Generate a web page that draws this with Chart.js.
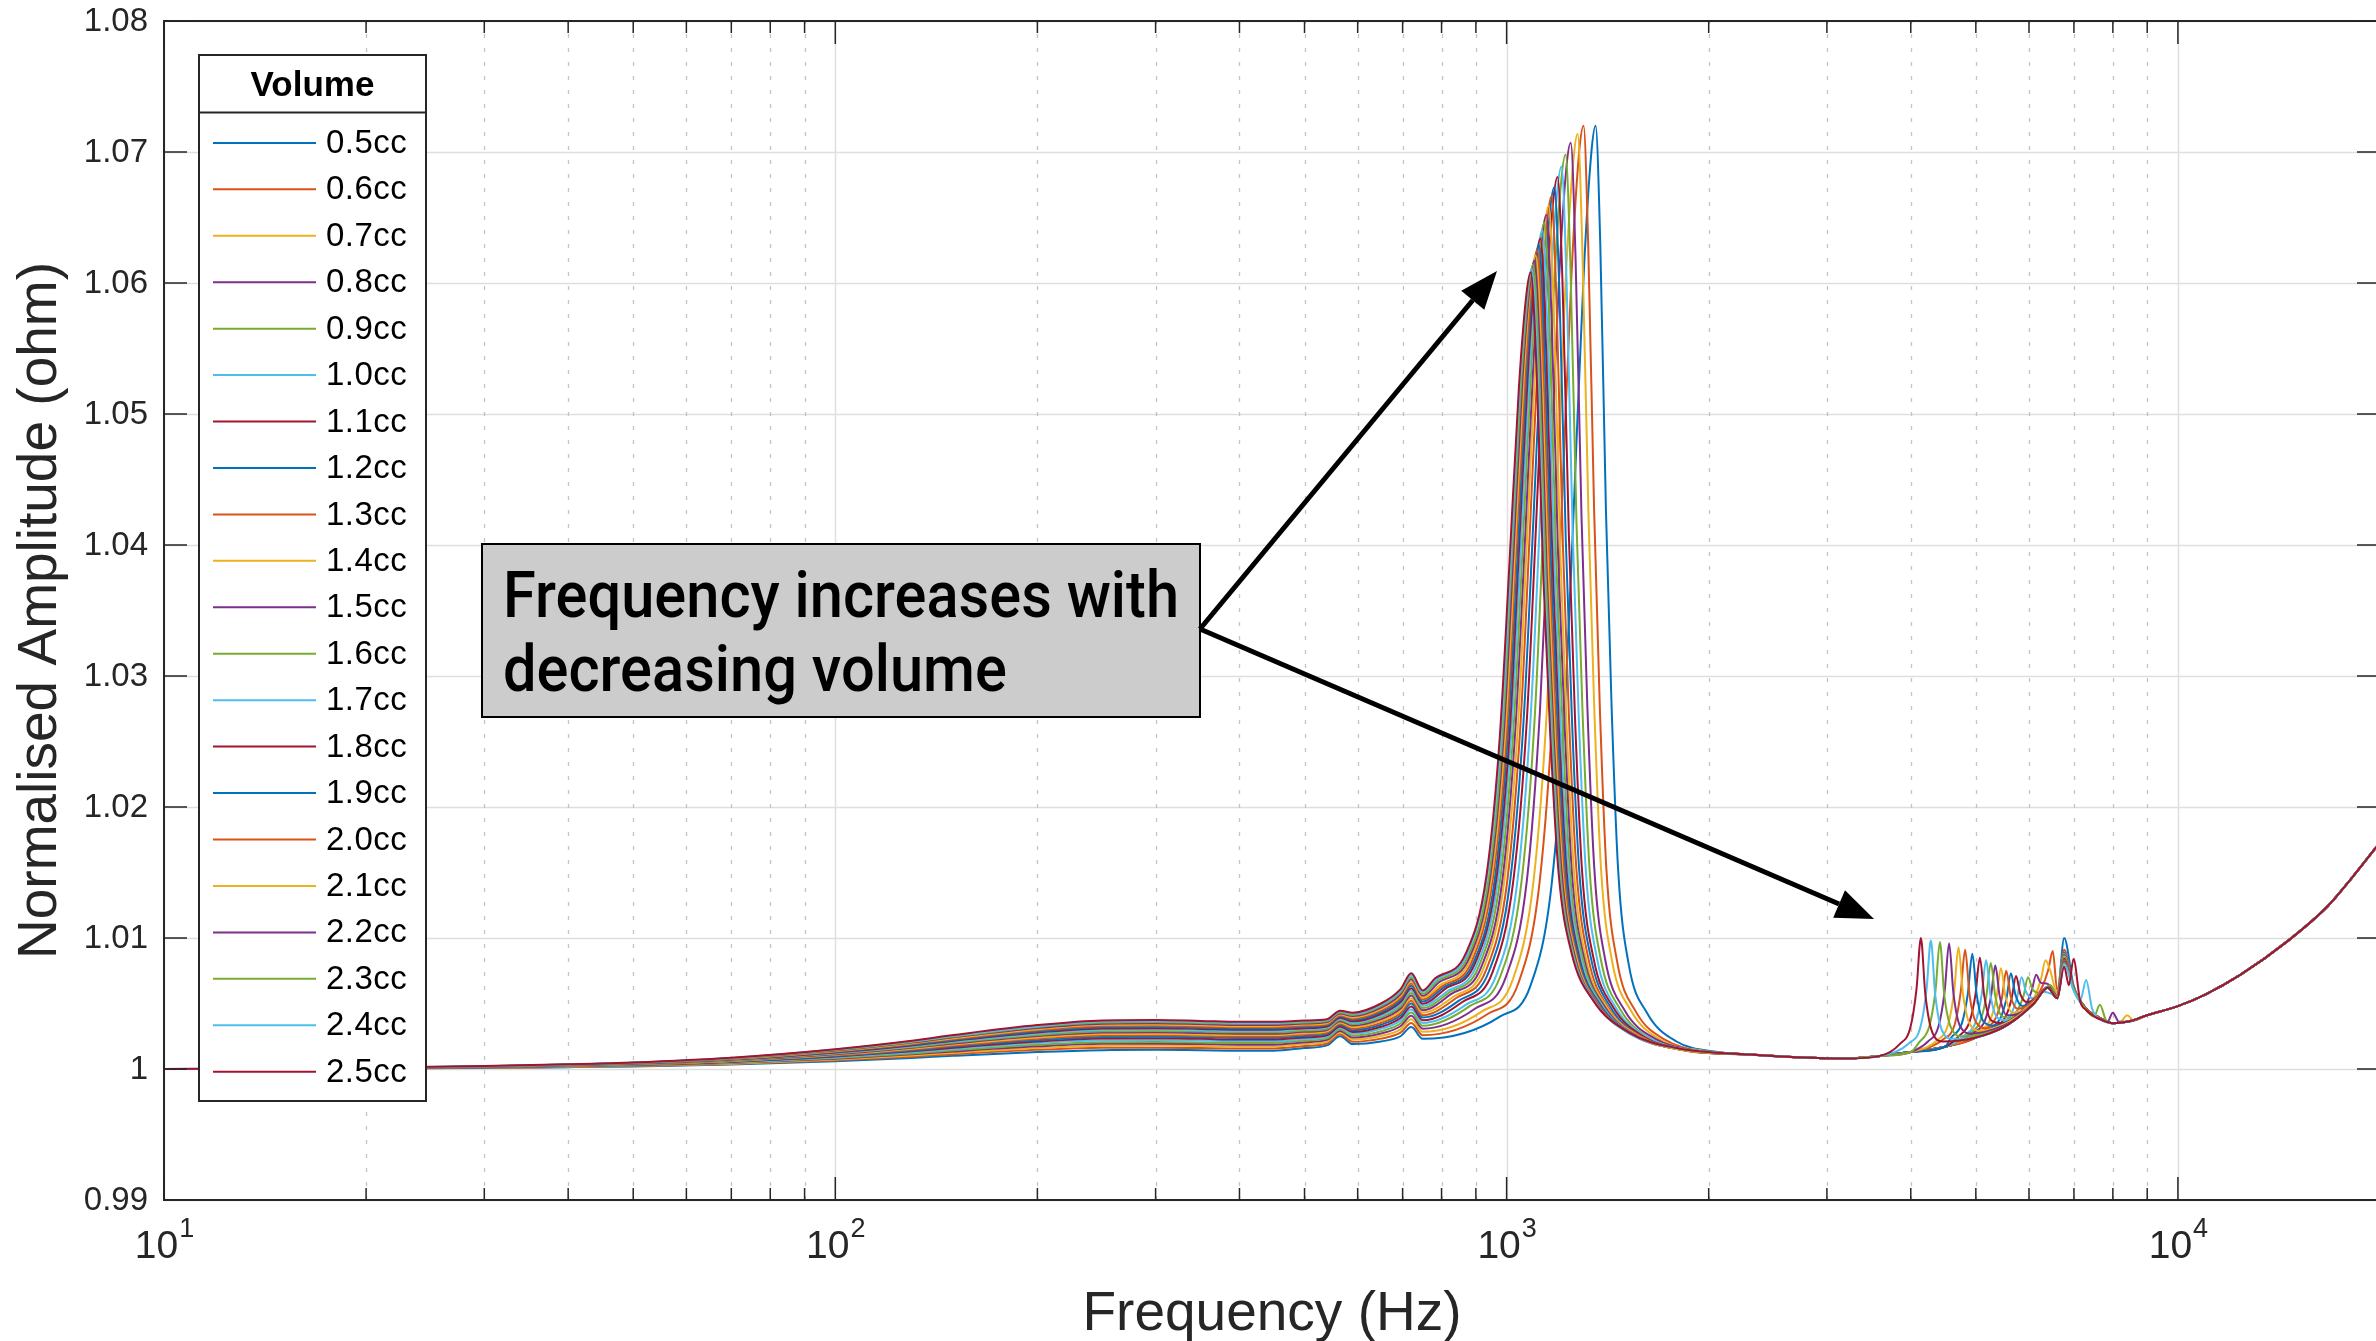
<!DOCTYPE html>
<html>
<head>
<meta charset="utf-8">
<script src="https://cdn.jsdelivr.net/npm/chart.js@4.4.1/dist/chart.umd.min.js"></script>
<style>
  html, body { margin: 0; padding: 0; background: #fff; overflow: hidden; }
  #wrap { position: absolute; left: 0; top: 0; width: 2400px; height: 1341px; }
</style>
</head>
<body>
<div id="wrap"><canvas id="grafica" width="2400" height="1341"></canvas></div>
<script>
const volumes = ["0.5cc", "0.6cc", "0.7cc", "0.8cc", "0.9cc", "1.0cc", "1.1cc", "1.2cc", "1.3cc", "1.4cc",
  "1.5cc", "1.6cc", "1.7cc", "1.8cc", "1.9cc", "2.0cc", "2.1cc", "2.2cc", "2.3cc", "2.4cc", "2.5cc"]
const colores = ["#0072BD", "#D95319", "#EDB120", "#7E2F8E", "#77AC30", "#4DBEEE", "#A2142F"]

const yTicks = [0.99, 1.00, 1.01, 1.02, 1.03, 1.04, 1.05, 1.06, 1.07, 1.08]
const yLabels = ["0.99", "1", "1.01", "1.02", "1.03", "1.04", "1.05", "1.06", "1.07", "1.08"]
const xDecades = [10, 100, 1000, 10000]
const xExps = ["1", "2", "3", "4"]

// below the main resonance (Hz), same grid for every volume
const lowFreq = [10, 15, 20, 30, 40, 50, 70, 100, 130, 150, 200, 250, 300, 350, 400, 450, 500, 540, 565, 590, 650, 695, 721, 750]
const lowAmp = [
  [1, 1.00001, 1.00004, 1.00008, 1.00014, 1.0002, 1.00034, 1.00059, 1.00084, 1.00101, 1.0013, 1.00144, 1.00146, 1.00143, 1.0014, 1.0014, 1.0016, 1.0018, 1.0025, 1.0019, 1.0021, 1.0025, 1.0032, 1.0023],
  [1, 1.00002, 1.00004, 1.00009, 1.00016, 1.00022, 1.00038, 1.00066, 1.00094, 1.00113, 1.00146, 1.00162, 1.00163, 1.0016, 1.00157, 1.00157, 1.00176, 1.00195, 1.00265, 1.00208, 1.00232, 1.00277, 1.00351, 1.00258],
  [1, 1.00002, 1.00004, 1.0001, 1.00017, 1.00024, 1.00041, 1.00072, 1.00103, 1.00124, 1.0016, 1.00177, 1.00179, 1.00175, 1.00172, 1.00172, 1.0019, 1.00209, 1.00278, 1.00225, 1.00252, 1.00302, 1.00379, 1.00284],
  [1, 1.00002, 1.00005, 1.00011, 1.00019, 1.00026, 1.00045, 1.00078, 1.00112, 1.00134, 1.00173, 1.00192, 1.00193, 1.0019, 1.00186, 1.00186, 1.00204, 1.00222, 1.00291, 1.0024, 1.00271, 1.00326, 1.00406, 1.00308],
  [1, 1.00002, 1.00005, 1.00012, 1.0002, 1.00028, 1.00048, 1.00084, 1.00119, 1.00143, 1.00185, 1.00205, 1.00207, 1.00203, 1.00199, 1.00199, 1.00217, 1.00234, 1.00303, 1.00255, 1.00288, 1.00347, 1.00431, 1.0033],
  [1, 1.00002, 1.00005, 1.00013, 1.00021, 1.0003, 1.00051, 1.0009, 1.00128, 1.00153, 1.00198, 1.00219, 1.00222, 1.00217, 1.00213, 1.00213, 1.00229, 1.00246, 1.00314, 1.00269, 1.00306, 1.00369, 1.00455, 1.00352],
  [1, 1.00002, 1.00006, 1.00014, 1.00023, 1.00032, 1.00054, 1.00095, 1.00135, 1.00162, 1.00209, 1.00232, 1.00234, 1.0023, 1.00225, 1.00225, 1.00241, 1.00257, 1.00325, 1.00282, 1.00322, 1.00389, 1.00478, 1.00372],
  [1, 1.00002, 1.00006, 1.00014, 1.00024, 1.00033, 1.00057, 1.001, 1.00142, 1.00171, 1.0022, 1.00244, 1.00247, 1.00242, 1.00237, 1.00237, 1.00252, 1.00268, 1.00336, 1.00296, 1.00338, 1.00408, 1.005, 1.00393],
  [1, 1.00002, 1.00006, 1.00015, 1.00025, 1.00035, 1.0006, 1.00104, 1.00149, 1.00179, 1.00231, 1.00255, 1.00258, 1.00253, 1.00248, 1.00248, 1.00263, 1.00278, 1.00346, 1.00308, 1.00352, 1.00426, 1.00521, 1.00411],
  [1, 1.00003, 1.00006, 1.00016, 1.00026, 1.00036, 1.00062, 1.00109, 1.00155, 1.00187, 1.00241, 1.00267, 1.00269, 1.00264, 1.00259, 1.00259, 1.00273, 1.00288, 1.00355, 1.0032, 1.00367, 1.00444, 1.00541, 1.0043],
  [1, 1.00003, 1.00007, 1.00016, 1.00027, 1.00038, 1.00065, 1.00113, 1.00162, 1.00194, 1.00251, 1.00278, 1.00281, 1.00275, 1.0027, 1.0027, 1.00284, 1.00298, 1.00365, 1.00332, 1.00381, 1.00462, 1.00562, 1.00448],
  [1, 1.00003, 1.00007, 1.00017, 1.00028, 1.00039, 1.00067, 1.00118, 1.00168, 1.00202, 1.0026, 1.00288, 1.00291, 1.00286, 1.0028, 1.0028, 1.00293, 1.00307, 1.00374, 1.00342, 1.00394, 1.00479, 1.0058, 1.00465],
  [1, 1.00003, 1.00007, 1.00017, 1.00029, 1.00041, 1.0007, 1.00122, 1.00174, 1.00209, 1.0027, 1.00299, 1.00302, 1.00296, 1.0029, 1.0029, 1.00303, 1.00316, 1.00383, 1.00353, 1.00407, 1.00495, 1.00599, 1.00482],
  [1, 1.00003, 1.00008, 1.00018, 1.0003, 1.00042, 1.00072, 1.00126, 1.0018, 1.00216, 1.00279, 1.00309, 1.00312, 1.00306, 1.003, 1.003, 1.00312, 1.00325, 1.00391, 1.00364, 1.0042, 1.00511, 1.00617, 1.00498],
  [1, 1.00003, 1.00008, 1.00019, 1.00031, 1.00043, 1.00074, 1.0013, 1.00185, 1.00222, 1.00287, 1.00318, 1.00321, 1.00315, 1.00309, 1.00309, 1.00322, 1.00334, 1.004, 1.00375, 1.00433, 1.00527, 1.00636, 1.00515],
  [1, 1.00003, 1.00008, 1.00019, 1.00032, 1.00045, 1.00076, 1.00134, 1.00191, 1.00229, 1.00296, 1.00328, 1.00331, 1.00324, 1.00318, 1.00318, 1.0033, 1.00342, 1.00408, 1.00384, 1.00445, 1.00542, 1.00652, 1.0053],
  [1, 1.00003, 1.00008, 1.0002, 1.00033, 1.00046, 1.00078, 1.00137, 1.00196, 1.00235, 1.00304, 1.00337, 1.0034, 1.00334, 1.00327, 1.00327, 1.00339, 1.0035, 1.00416, 1.00394, 1.00457, 1.00556, 1.00669, 1.00545],
  [1, 1.00003, 1.00008, 1.0002, 1.00034, 1.00047, 1.00081, 1.00141, 1.00202, 1.00242, 1.00313, 1.00346, 1.00349, 1.00343, 1.00336, 1.00336, 1.00347, 1.00358, 1.00424, 1.00404, 1.00468, 1.0057, 1.00685, 1.00559],
  [1, 1.00003, 1.00009, 1.00021, 1.00035, 1.00048, 1.00083, 1.00145, 1.00207, 1.00248, 1.00321, 1.00355, 1.00359, 1.00352, 1.00345, 1.00345, 1.00355, 1.00366, 1.00431, 1.00413, 1.0048, 1.00585, 1.00701, 1.00574],
  [1, 1.00004, 1.00009, 1.00021, 1.00035, 1.00049, 1.00084, 1.00148, 1.00211, 1.00253, 1.00327, 1.00363, 1.00366, 1.00359, 1.00352, 1.00352, 1.00363, 1.00373, 1.00438, 1.00422, 1.0049, 1.00597, 1.00716, 1.00587],
  [1, 1.00004, 1.00009, 1.00022, 1.00036, 1.0005, 1.00086, 1.00151, 1.00216, 1.00259, 1.00335, 1.00371, 1.00374, 1.00367, 1.0036, 1.0036, 1.0037, 1.0038, 1.00445, 1.0043, 1.005, 1.0061, 1.0073, 1.006]
]

// main resonance, read per volume
const peakFreq = [
  [977, 1086, 1167, 1221, 1262, 1303, 1337, 1357, 1379, 1406, 1433, 1466, 1520, 1618, 1791, 2063],
  [937, 1042, 1120, 1172, 1211, 1250, 1282, 1302, 1323, 1350, 1376, 1408, 1461, 1557, 1726, 1992],
  [919, 1021, 1097, 1148, 1187, 1225, 1257, 1276, 1297, 1324, 1350, 1382, 1435, 1530, 1699, 1964],
  [897, 997, 1072, 1121, 1159, 1196, 1227, 1246, 1267, 1293, 1319, 1351, 1403, 1498, 1666, 1928],
  [881, 979, 1053, 1102, 1138, 1175, 1206, 1224, 1245, 1271, 1297, 1329, 1381, 1475, 1642, 1903],
  [869, 966, 1038, 1086, 1123, 1159, 1189, 1207, 1228, 1254, 1280, 1312, 1364, 1458, 1625, 1886],
  [858, 953, 1024, 1072, 1108, 1143, 1173, 1191, 1212, 1238, 1264, 1295, 1348, 1442, 1609, 1870],
  [848, 942, 1013, 1060, 1096, 1131, 1160, 1178, 1199, 1225, 1251, 1283, 1335, 1429, 1596, 1858],
  [840, 933, 1003, 1049, 1084, 1119, 1149, 1166, 1187, 1213, 1239, 1271, 1323, 1417, 1585, 1847],
  [832, 924, 993, 1040, 1074, 1109, 1138, 1155, 1176, 1202, 1228, 1260, 1312, 1407, 1575, 1837],
  [825, 917, 986, 1031, 1066, 1100, 1129, 1146, 1167, 1193, 1220, 1251, 1304, 1398, 1567, 1830],
  [819, 910, 979, 1024, 1058, 1092, 1121, 1138, 1159, 1185, 1212, 1243, 1296, 1391, 1560, 1824],
  [814, 904, 972, 1017, 1051, 1085, 1113, 1130, 1151, 1178, 1204, 1236, 1289, 1384, 1553, 1817],
  [809, 898, 966, 1011, 1044, 1078, 1106, 1123, 1144, 1171, 1197, 1229, 1282, 1378, 1548, 1813],
  [804, 894, 961, 1005, 1039, 1072, 1100, 1117, 1138, 1165, 1192, 1224, 1277, 1373, 1543, 1810],
  [800, 889, 955, 1000, 1033, 1067, 1094, 1111, 1132, 1159, 1186, 1218, 1271, 1368, 1539, 1806],
  [796, 884, 950, 995, 1028, 1061, 1088, 1105, 1126, 1153, 1180, 1212, 1266, 1362, 1534, 1802],
  [792, 880, 946, 990, 1023, 1056, 1084, 1100, 1122, 1148, 1175, 1208, 1261, 1358, 1530, 1799],
  [788, 876, 942, 986, 1018, 1051, 1079, 1095, 1117, 1144, 1171, 1203, 1257, 1354, 1527, 1797],
  [785, 872, 937, 981, 1014, 1046, 1074, 1090, 1112, 1139, 1166, 1198, 1252, 1350, 1523, 1794],
  [782, 869, 934, 977, 1010, 1043, 1070, 1086, 1108, 1135, 1162, 1195, 1249, 1347, 1520, 1792]
]
const peakAmp = [
  [1.0040, 1.0064, 1.0141, 1.0273, 1.0441, 1.0608, 1.0699, 1.0720, 1.0629, 1.0426, 1.0279, 1.0152, 1.0080, 1.0043, 1.0021, 1.0013],
  [1.0042, 1.0066, 1.0143, 1.0275, 1.0442, 1.0609, 1.0699, 1.0720, 1.0629, 1.0427, 1.0280, 1.0153, 1.0082, 1.0044, 1.0022, 1.0013],
  [1.0044, 1.0068, 1.0144, 1.0274, 1.0439, 1.0604, 1.0693, 1.0714, 1.0624, 1.0424, 1.0279, 1.0154, 1.0083, 1.0045, 1.0022, 1.0014],
  [1.0046, 1.0070, 1.0144, 1.0273, 1.0436, 1.0599, 1.0687, 1.0707, 1.0618, 1.0421, 1.0277, 1.0153, 1.0083, 1.0045, 1.0023, 1.0014],
  [1.0048, 1.0071, 1.0144, 1.0271, 1.0431, 1.0591, 1.0678, 1.0698, 1.0611, 1.0416, 1.0275, 1.0153, 1.0084, 1.0046, 1.0023, 1.0014],
  [1.0049, 1.0072, 1.0144, 1.0269, 1.0427, 1.0584, 1.0669, 1.0689, 1.0603, 1.0412, 1.0272, 1.0152, 1.0084, 1.0046, 1.0024, 1.0014],
  [1.0051, 1.0074, 1.0145, 1.0267, 1.0423, 1.0578, 1.0662, 1.0681, 1.0596, 1.0408, 1.0270, 1.0152, 1.0084, 1.0047, 1.0024, 1.0014],
  [1.0052, 1.0075, 1.0145, 1.0266, 1.0418, 1.0571, 1.0654, 1.0673, 1.0590, 1.0404, 1.0268, 1.0151, 1.0085, 1.0047, 1.0024, 1.0014],
  [1.0054, 1.0076, 1.0145, 1.0264, 1.0415, 1.0566, 1.0647, 1.0666, 1.0584, 1.0400, 1.0266, 1.0151, 1.0085, 1.0047, 1.0025, 1.0014],
  [1.0055, 1.0077, 1.0145, 1.0263, 1.0411, 1.0560, 1.0640, 1.0659, 1.0578, 1.0396, 1.0265, 1.0151, 1.0085, 1.0048, 1.0025, 1.0015],
  [1.0057, 1.0078, 1.0145, 1.0261, 1.0408, 1.0554, 1.0634, 1.0652, 1.0572, 1.0393, 1.0263, 1.0150, 1.0085, 1.0048, 1.0025, 1.0015],
  [1.0058, 1.0079, 1.0146, 1.0260, 1.0405, 1.0550, 1.0628, 1.0646, 1.0567, 1.0390, 1.0261, 1.0150, 1.0086, 1.0048, 1.0025, 1.0015],
  [1.0059, 1.0080, 1.0146, 1.0259, 1.0402, 1.0545, 1.0622, 1.0640, 1.0562, 1.0387, 1.0260, 1.0150, 1.0086, 1.0049, 1.0026, 1.0015],
  [1.0061, 1.0081, 1.0146, 1.0258, 1.0399, 1.0540, 1.0616, 1.0634, 1.0556, 1.0384, 1.0258, 1.0150, 1.0086, 1.0049, 1.0026, 1.0015],
  [1.0062, 1.0082, 1.0146, 1.0257, 1.0396, 1.0536, 1.0612, 1.0629, 1.0552, 1.0382, 1.0257, 1.0150, 1.0087, 1.0050, 1.0026, 1.0015],
  [1.0063, 1.0083, 1.0147, 1.0256, 1.0395, 1.0533, 1.0608, 1.0625, 1.0549, 1.0380, 1.0256, 1.0150, 1.0087, 1.0050, 1.0026, 1.0015],
  [1.0064, 1.0084, 1.0147, 1.0256, 1.0393, 1.0530, 1.0604, 1.0621, 1.0546, 1.0378, 1.0256, 1.0150, 1.0088, 1.0050, 1.0027, 1.0015],
  [1.0066, 1.0085, 1.0148, 1.0255, 1.0391, 1.0527, 1.0600, 1.0617, 1.0542, 1.0376, 1.0255, 1.0150, 1.0088, 1.0051, 1.0027, 1.0016],
  [1.0067, 1.0086, 1.0148, 1.0255, 1.0390, 1.0524, 1.0597, 1.0614, 1.0540, 1.0375, 1.0254, 1.0150, 1.0088, 1.0051, 1.0027, 1.0016],
  [1.0068, 1.0087, 1.0149, 1.0254, 1.0388, 1.0522, 1.0594, 1.0611, 1.0537, 1.0373, 1.0254, 1.0150, 1.0089, 1.0052, 1.0027, 1.0016],
  [1.0069, 1.0088, 1.0149, 1.0254, 1.0387, 1.0520, 1.0591, 1.0608, 1.0535, 1.0372, 1.0253, 1.0150, 1.0089, 1.0052, 1.0028, 1.0016]
]

// between the two resonance groups all curves sit together
const midFreq = [2300, 2700, 3200]
const midAmp = [1.0011, 1.0009, 1.0008]

// second resonance group, [Hz, amplitude] per volume
const hfPts = [
  [[3600,1.0010],[4000,1.0013],[4500,1.0017],[5000,1.0024],[5500,1.0032],[5800,1.0040],[6100,1.0050],[6400,1.0063],[6610,1.0056],[6770,1.0100],[6990,1.0064],[7300,1.0046],[7650,1.0039],[8000,1.0035],[8400,1.0036]],
  [[3600,1.0010],[4000,1.0013],[4500,1.0017],[5000,1.0024],[5500,1.0032],[5800,1.0040],[6054,1.0050],[6282,1.0063],[6412,1.0076],[6510,1.0090],[6610,1.0060],[6770,1.0091],[6990,1.0062],[7300,1.0046],[7650,1.0039],[8000,1.0035],[8400,1.0036]],
  [[3600,1.0010],[4000,1.0013],[4500,1.0017],[5000,1.0024],[5500,1.0032],[5906,1.0045],[6128,1.0056],[6255,1.0069],[6350,1.0083],[6445,1.0076],[6610,1.0058],[6770,1.0089],[6990,1.0062],[7300,1.0046],[7650,1.0039],[8000,1.0035],[8400,1.0036]],
  [[3600,1.0010],[4000,1.0013],[4500,1.0017],[5000,1.0024],[5500,1.0032],[5720,1.0040],[5935,1.0049],[6058,1.0060],[6150,1.0072],[6242,1.0066],[6396,1.0065],[6610,1.0056],[6770,1.0089],[6990,1.0062],[7300,1.0046],[7650,1.0039],[8000,1.0035],[8400,1.0036]],
  [[3600,1.0010],[4000,1.0013],[4500,1.0017],[5000,1.0024],[5561,1.0036],[5771,1.0045],[5890,1.0056],[5980,1.0070],[6070,1.0061],[6219,1.0058],[6458,1.0064],[6610,1.0056],[6770,1.0088],[6990,1.0062],[7300,1.0046],[7650,1.0039],[8000,1.0035],[8400,1.0036]],
  [[3600,1.0010],[4000,1.0013],[4500,1.0017],[5000,1.0024],[5441,1.0033],[5645,1.0042],[5762,1.0055],[5850,1.0070],[5938,1.0059],[6084,1.0054],[6318,1.0059],[6610,1.0056],[6770,1.0088],[6990,1.0062],[7300,1.0046],[7650,1.0039],[8000,1.0035],[8400,1.0036]],
  [[3600,1.0010],[4000,1.0013],[4500,1.0017],[5000,1.0024],[5338,1.0032],[5539,1.0040],[5654,1.0054],[5740,1.0071],[5826,1.0057],[5970,1.0051],[6199,1.0056],[6400,1.0062],[6610,1.0056],[6770,1.0087],[6990,1.0062],[7300,1.0046],[7650,1.0039],[8000,1.0035],[8400,1.0036]],
  [[3600,1.0010],[4000,1.0013],[4500,1.0017],[5000,1.0024],[5245,1.0031],[5443,1.0039],[5555,1.0054],[5640,1.0073],[5725,1.0057],[5866,1.0048],[6091,1.0052],[6400,1.0062],[6610,1.0056],[6770,1.0087],[6990,1.0062],[7300,1.0046],[7650,1.0039],[8000,1.0035],[8400,1.0036]],
  [[3600,1.0010],[4000,1.0013],[4500,1.0017],[5000,1.0024],[5162,1.0030],[5356,1.0039],[5467,1.0054],[5550,1.0075],[5633,1.0056],[5772,1.0046],[5994,1.0049],[6400,1.0062],[6610,1.0056],[6770,1.0086],[6990,1.0062],[7300,1.0046],[7650,1.0039],[8000,1.0035],[8400,1.0036]],
  [[3600,1.0010],[4000,1.0013],[4500,1.0017],[5069,1.0029],[5259,1.0038],[5368,1.0055],[5450,1.0077],[5532,1.0056],[5668,1.0043],[5886,1.0045],[6100,1.0051],[6400,1.0062],[6610,1.0054],[6770,1.0086],[6990,1.0062],[7300,1.0046],[7650,1.0039],[8000,1.0035],[8400,1.0036]],
  [[3600,1.0010],[4000,1.0013],[4500,1.0017],[4971,1.0028],[5158,1.0037],[5265,1.0055],[5345,1.0079],[5425,1.0056],[5559,1.0041],[5773,1.0042],[6100,1.0050],[6400,1.0062],[6610,1.0054],[6770,1.0085],[6990,1.0062],[7300,1.0046],[7650,1.0039],[8000,1.0035],[8400,1.0036]],
  [[3600,1.0010],[4000,1.0013],[4500,1.0017],[4896,1.0027],[5080,1.0037],[5185,1.0056],[5264,1.0081],[5343,1.0056],[5475,1.0040],[5685,1.0039],[6100,1.0050],[6400,1.0062],[6610,1.0054],[6770,1.0085],[6990,1.0062],[7300,1.0046],[7650,1.0039],[8000,1.0035],[8400,1.0036]],
  [[3600,1.0010],[4000,1.0013],[4500,1.0017],[4817,1.0026],[4999,1.0036],[5102,1.0057],[5180,1.0083],[5258,1.0056],[5387,1.0039],[5594,1.0037],[5800,1.0041],[6100,1.0050],[6400,1.0062],[6610,1.0054],[6770,1.0084],[6990,1.0062],[7300,1.0046],[7650,1.0039],[8000,1.0035],[8400,1.0036]],
  [[3600,1.0010],[4000,1.0013],[4500,1.0017],[4715,1.0025],[4893,1.0036],[4994,1.0057],[5070,1.0085],[5146,1.0056],[5273,1.0037],[5476,1.0035],[5800,1.0041],[6100,1.0050],[6400,1.0062],[6610,1.0054],[6770,1.0084],[6990,1.0062],[7300,1.0046],[7650,1.0039],[8000,1.0035],[8400,1.0036]],
  [[3600,1.0010],[4000,1.0013],[4500,1.0017],[4594,1.0024],[4767,1.0035],[4866,1.0058],[4940,1.0088],[5014,1.0057],[5138,1.0036],[5335,1.0033],[5800,1.0041],[6100,1.0050],[6400,1.0062],[6610,1.0054],[6770,1.0083],[6990,1.0062],[7300,1.0046],[7650,1.0039],[8000,1.0035],[8400,1.0036]],
  [[3600,1.0010],[4000,1.0013],[4483,1.0023],[4651,1.0034],[4748,1.0059],[4820,1.0091],[4892,1.0057],[5013,1.0035],[5206,1.0031],[5500,1.0034],[5800,1.0041],[6100,1.0050],[6400,1.0062],[6610,1.0054],[6770,1.0083],[6990,1.0062],[7300,1.0046],[7650,1.0039],[8000,1.0035],[8400,1.0036]],
  [[3600,1.0010],[4000,1.0013],[4382,1.0022],[4547,1.0034],[4641,1.0059],[4712,1.0093],[4783,1.0058],[4900,1.0034],[5089,1.0029],[5500,1.0034],[5800,1.0041],[6100,1.0050],[6400,1.0062],[6610,1.0054],[6770,1.0082],[6990,1.0061],[7300,1.0045],[7650,1.0038],[8000,1.0035],[8220,1.0036],[8400,1.0041],[8600,1.0037]],
  [[3600,1.0010],[4000,1.0013],[4243,1.0021],[4402,1.0033],[4494,1.0060],[4562,1.0096],[4630,1.0058],[4744,1.0032],[4927,1.0027],[5500,1.0033],[5800,1.0040],[6100,1.0050],[6400,1.0062],[6610,1.0054],[6770,1.0082],[6990,1.0061],[7300,1.0045],[7650,1.0038],[7850,1.0036],[8000,1.0043],[8170,1.0036],[8400,1.0036]],
  [[3600,1.0010],[4000,1.0013],[4111,1.0020],[4265,1.0033],[4354,1.0060],[4420,1.0097],[4486,1.0057],[4597,1.0031],[4774,1.0025],[5500,1.0032],[5800,1.0040],[6100,1.0050],[6400,1.0062],[6610,1.0054],[6770,1.0081],[6990,1.0061],[7300,1.0045],[7500,1.0040],[7650,1.0049],[7820,1.0037],[8000,1.0035],[8400,1.0036]],
  [[3600,1.0010],[3985,1.0020],[4135,1.0032],[4221,1.0060],[4285,1.0098],[4349,1.0057],[4456,1.0029],[4628,1.0023],[5000,1.0024],[5500,1.0032],[5800,1.0040],[6100,1.0050],[6400,1.0062],[6610,1.0054],[6770,1.0080],[6990,1.0060],[7150,1.0052],[7300,1.0068],[7450,1.0046],[7650,1.0038],[8000,1.0035],[8400,1.0036]],
  [[3600,1.0010],[3851,1.0019],[3996,1.0032],[4079,1.0061],[4141,1.0100],[4203,1.0058],[4307,1.0028],[4472,1.0021],[5000,1.0024],[5500,1.0032],[5800,1.0040],[6100,1.0050],[6400,1.0062],[6610,1.0054],[6770,1.0078],[6880,1.0064],[6990,1.0084],[7150,1.0052],[7300,1.0045],[7650,1.0038],[8000,1.0035],[8400,1.0036]]
]

// top end, identical for all volumes
const tailFreq = [9000, 10000, 11000, 12400, 14600, 16700, 18100, 20000]
const tailAmp = [1.0041, 1.0048, 1.0057, 1.0072, 1.0098, 1.0124, 1.0145, 1.0173]

function serie(i) {
  let pts = []
  lowFreq.forEach((f, k) => pts.push({ x: f, y: lowAmp[i][k] }))
  peakFreq[i].forEach((f, k) => pts.push({ x: f, y: peakAmp[i][k] }))
  midFreq.forEach((f, k) => pts.push({ x: f, y: midAmp[k] }))
  hfPts[i].forEach(p => pts.push({ x: p[0], y: p[1] }))
  tailFreq.forEach((f, k) => pts.push({ x: f, y: tailAmp[k] }))
  return pts
}

const ejeColor = "#262626"
const fuente = '"Liberation Sans", Arial, sans-serif'

const rejilla = {
  id: "rejilla",
  beforeDatasetsDraw(chart) {
    const { ctx, chartArea: a, scales: { x, y } } = chart
    ctx.save()
    ctx.lineWidth = 1.5
    ctx.strokeStyle = "#dfdfdf"
    yTicks.forEach(v => {
      const py = Math.round(y.getPixelForValue(v)) + 0.5
      ctx.beginPath(); ctx.moveTo(a.left, py); ctx.lineTo(a.right, py); ctx.stroke()
    })
    xDecades.forEach(d => {
      const px = Math.round(x.getPixelForValue(d)) + 0.5
      ctx.beginPath(); ctx.moveTo(px, a.top); ctx.lineTo(px, a.bottom); ctx.stroke()
    })
    ctx.setLineDash([4, 10])
    ctx.lineWidth = 1.3
    ctx.strokeStyle = "#c4c4c4"
    xDecades.forEach(d => {
      for (let m = 2; m <= 9; m++) {
        if (m * d >= 20000) continue
        const px = Math.round(x.getPixelForValue(m * d)) + 0.5
        ctx.beginPath(); ctx.moveTo(px, a.bottom); ctx.lineTo(px, a.top); ctx.stroke()
      }
    })
    ctx.restore()
  }
}

function flecha(ctx, x0, y0, x1, y1) {
  const ang = Math.atan2(y1 - y0, x1 - x0)
  const largo = 38, ancho = 15
  const bx = x1 - largo * Math.cos(ang), by = y1 - largo * Math.sin(ang)
  ctx.beginPath(); ctx.moveTo(x0, y0); ctx.lineTo(bx, by); ctx.stroke()
  ctx.beginPath()
  ctx.moveTo(x1, y1)
  ctx.lineTo(bx + ancho * Math.sin(ang), by - ancho * Math.cos(ang))
  ctx.lineTo(bx - ancho * Math.sin(ang), by + ancho * Math.cos(ang))
  ctx.closePath(); ctx.fill()
}

const adornos = {
  id: "adornos",
  afterDatasetsDraw(chart) {
    const { ctx, chartArea: a, scales: { x, y } } = chart
    ctx.save()

    // axes box and inward ticks
    ctx.strokeStyle = ejeColor
    ctx.lineWidth = 2
    ctx.strokeRect(a.left, a.top, a.right - a.left, a.bottom - a.top)
    ctx.lineWidth = 1.5
    yTicks.forEach(v => {
      const py = y.getPixelForValue(v)
      ctx.beginPath()
      ctx.moveTo(a.left, py); ctx.lineTo(a.left + 23, py)
      ctx.moveTo(a.right, py); ctx.lineTo(a.right - 23, py)
      ctx.stroke()
    })
    xDecades.forEach(d => {
      for (let m = 1; m <= 9; m++) {
        if (m * d >= 20000) continue
        const px = x.getPixelForValue(m * d)
        const t = m === 1 ? 23 : 12
        ctx.beginPath()
        ctx.moveTo(px, a.bottom); ctx.lineTo(px, a.bottom - t)
        ctx.moveTo(px, a.top); ctx.lineTo(px, a.top + t)
        ctx.stroke()
      }
    })

    // tick labels
    ctx.fillStyle = ejeColor
    ctx.font = "33px " + fuente
    ctx.textAlign = "right"
    ctx.textBaseline = "middle"
    yTicks.forEach((v, k) => ctx.fillText(yLabels[k], a.left - 16, y.getPixelForValue(v) + 1))
    xDecades.forEach((d, k) => {
      const px = x.getPixelForValue(d)
      ctx.font = "39px " + fuente
      const w10 = ctx.measureText("10").width
      ctx.font = "27px " + fuente
      const we = ctx.measureText(xExps[k]).width
      const x0 = px - (w10 + we) / 2
      ctx.textAlign = "left"
      ctx.font = "39px " + fuente
      ctx.fillText("10", x0, 1247)
      ctx.font = "27px " + fuente
      ctx.fillText(xExps[k], x0 + w10 + 1, 1230)
    })

    // axis titles
    ctx.font = "55px " + fuente
    ctx.textAlign = "center"
    ctx.textBaseline = "alphabetic"
    ctx.fillText("Frequency (Hz)", (a.left + a.right) / 2, 1330)
    ctx.save()
    ctx.translate(56, (a.top + a.bottom) / 2)
    ctx.rotate(-Math.PI / 2)
    ctx.fillText("Normalised Amplitude (ohm)", 0, 0)
    ctx.restore()

    // legend
    const lx = 199, ly = 55, lw = 227, lh = 1046
    ctx.fillStyle = "#fff"
    ctx.fillRect(lx, ly, lw, lh)
    ctx.strokeStyle = ejeColor
    ctx.lineWidth = 2
    ctx.strokeRect(lx, ly, lw, lh)
    ctx.beginPath(); ctx.moveTo(lx, 112.5); ctx.lineTo(lx + lw, 112.5); ctx.stroke()
    ctx.fillStyle = "#000"
    ctx.font = "bold 35px " + fuente
    ctx.textAlign = "center"
    ctx.textBaseline = "middle"
    ctx.fillText("Volume", lx + lw / 2, 86)
    ctx.font = "33px " + fuente
    ctx.letterSpacing = "0.5px"
    ctx.textAlign = "left"
    chart.data.datasets.forEach((ds, k) => {
      const yy = 142.9 + k * 46.44
      ctx.strokeStyle = ds.borderColor
      ctx.lineWidth = 2
      ctx.beginPath(); ctx.moveTo(213, yy); ctx.lineTo(316, yy); ctx.stroke()
      ctx.fillStyle = "#000"
      ctx.fillText(ds.label, 326, yy + 1)
    })
    ctx.letterSpacing = "0px"

    // annotation
    ctx.fillStyle = "#cccccc"
    ctx.fillRect(482, 544, 718, 173)
    ctx.strokeStyle = "#000"
    ctx.lineWidth = 2
    ctx.strokeRect(482, 544, 718, 173)
    ctx.fillStyle = "#000"
    ctx.font = '500 64px Roboto, "Open Sans", sans-serif'
    ctx.textAlign = "left"
    ctx.textBaseline = "alphabetic"
    const l1 = "Frequency increases with", l2 = "decreasing volume"
    const sx = 676 / ctx.measureText(l1).width
    ctx.save(); ctx.translate(503, 617); ctx.scale(sx, 1); ctx.fillText(l1, 0, 0); ctx.restore()
    ctx.save(); ctx.translate(503, 691); ctx.scale(sx, 1); ctx.fillText(l2, 0, 0); ctx.restore()

    ctx.lineWidth = 5
    ctx.strokeStyle = "#000"
    ctx.fillStyle = "#000"
    flecha(ctx, 1200, 629, 1497, 271)
    flecha(ctx, 1200, 629, 1874, 919)

    ctx.restore()
  }
}

const datasets = volumes.map((v, i) => ({
  label: v,
  data: serie(i),
  borderColor: colores[i % 7],
  borderWidth: 2,
  pointRadius: 0,
  fill: false,
  cubicInterpolationMode: "monotone",
  order: -i
}))

new Chart(document.getElementById("grafica"), {
  type: "line",
  data: { datasets: datasets },
  options: {
    responsive: false,
    animation: false,
    events: [],
    layout: { padding: { left: 164, right: 20, top: 21, bottom: 141 } },
    plugins: { legend: { display: false }, tooltip: { enabled: false }, title: { display: false } },
    scales: {
      x: { type: "logarithmic", min: 10, max: 20000, display: false },
      y: { type: "linear", min: 0.99, max: 1.08, display: false }
    }
  },
  plugins: [rejilla, adornos]
})
</script>
</body>
</html>
